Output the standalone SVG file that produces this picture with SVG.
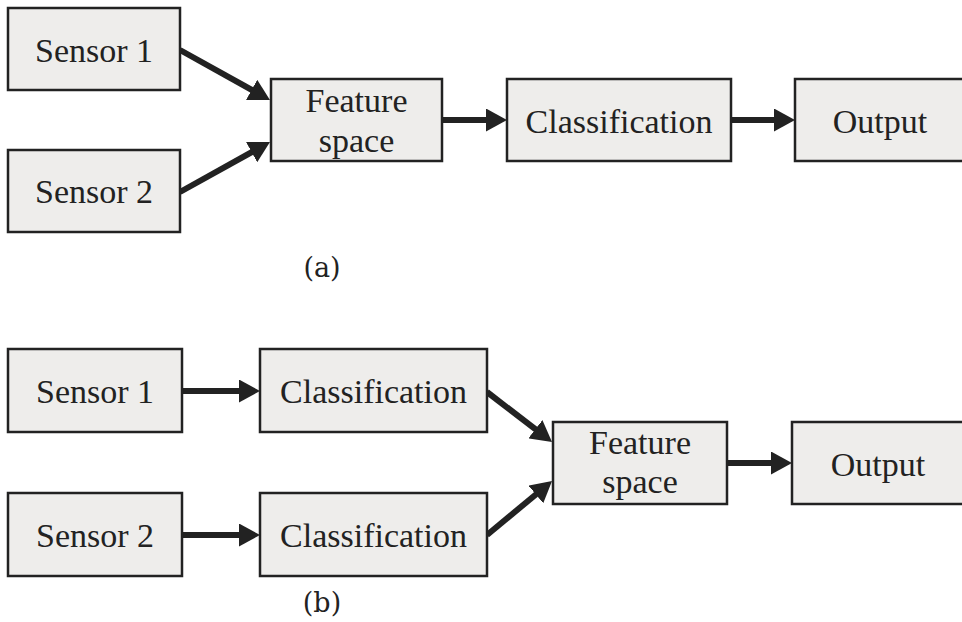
<svg xmlns="http://www.w3.org/2000/svg" width="962" height="622" viewBox="0 0 962 622">
<defs>
<style>
.box{fill:#eeedeb;stroke:#222;stroke-width:2.5}
.t{font-family:"Liberation Serif","Times New Roman",serif;font-size:34px;fill:#222;text-anchor:middle}
.cap{font-family:"DejaVu Serif","Liberation Serif",serif;font-size:27px;fill:#222;text-anchor:middle}
.c{stroke:#222;stroke-width:6;fill:none;marker-end:url(#ah)}
</style>
<marker id="ah" markerUnits="userSpaceOnUse" markerWidth="21" markerHeight="23" refX="9" refY="11.5" orient="auto" viewBox="0 0 21 23">
<path d="M0,0 L21,11.5 L0,23 z" fill="#222"/>
</marker>
</defs>
<rect width="962" height="622" fill="#fff"/>
<g id="connectors">
<line class="c" x1="180" y1="50" x2="259.5" y2="94.2"/>
<line class="c" x1="180" y1="192" x2="259.5" y2="147.8"/>
<line class="c" x1="442" y1="120" x2="495" y2="120"/>
<line class="c" x1="731" y1="120" x2="783" y2="120"/>
<line class="c" x1="182" y1="391" x2="248" y2="391"/>
<line class="c" x1="182" y1="535" x2="248" y2="535"/>
<line class="c" x1="487" y1="392" x2="542.5" y2="434.7"/>
<line class="c" x1="487" y1="535" x2="542.8" y2="488.7"/>
<line class="c" x1="727" y1="463" x2="780" y2="463"/>
</g>
<g id="a-sensor1"><rect class="box" x="8" y="8" width="172" height="82"/><text class="t" x="94" y="62">Sensor 1</text></g>
<g id="a-sensor2"><rect class="box" x="8" y="150" width="172" height="82"/><text class="t" x="94" y="203">Sensor 2</text></g>
<g id="a-feature"><rect class="box" x="271" y="79" width="171" height="82"/><text class="t" x="356.5" y="112">Feature</text><text class="t" x="356.5" y="152">space</text></g>
<g id="a-class"><rect class="box" x="507" y="79" width="224" height="82"/><text class="t" x="619" y="133">Classification</text></g>
<g id="a-output"><rect class="box" x="795" y="79" width="172" height="82"/><text class="t" x="880" y="133">Output</text></g>
<g id="label-a"><text class="cap" x="322" y="277">(a)</text></g>
<g id="b-sensor1"><rect class="box" x="8" y="349" width="174" height="83"/><text class="t" x="95" y="403">Sensor 1</text></g>
<g id="b-sensor2"><rect class="box" x="8" y="493" width="174" height="83"/><text class="t" x="95" y="547">Sensor 2</text></g>
<g id="b-class1"><rect class="box" x="260" y="349" width="227" height="83"/><text class="t" x="373.5" y="403">Classification</text></g>
<g id="b-class2"><rect class="box" x="260" y="493" width="227" height="83"/><text class="t" x="373.5" y="547">Classification</text></g>
<g id="b-feature"><rect class="box" x="553" y="422" width="174" height="82"/><text class="t" x="640" y="454">Feature</text><text class="t" x="640" y="493">space</text></g>
<g id="b-output"><rect class="box" x="792" y="422" width="174" height="82"/><text class="t" x="878" y="476">Output</text></g>
<g id="label-b"><text class="cap" x="322" y="612">(b)</text></g>
</svg>
